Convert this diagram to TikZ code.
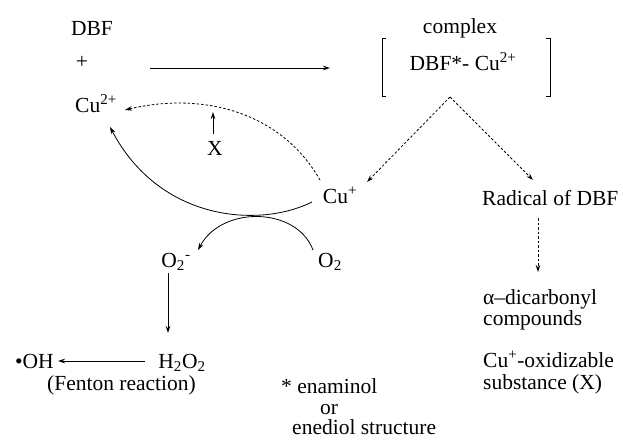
\documentclass[tikz,border=0pt]{standalone}
\usepackage{fontspec}
\setmainfont{Liberation Serif}
\usetikzlibrary{arrows.meta}
\tikzset{
  lbl/.style={inner sep=0pt, font=\fontsize{21.5}{25}\selectfont},
  con/.style={line width=0.8pt, -{Stealth[length=7pt,width=4.5pt]}},
  dcon/.style={con, dash pattern=on 2.5pt off 2pt},
  brk/.style={line width=0.8pt}
}
\begin{document}
\begin{tikzpicture}[x=1pt,y=-1pt]
\useasboundingbox (0,0) rectangle (623,439);
% nodes
\node[lbl,anchor=base] (dbf) at (92,35) {DBF};
\node[lbl] (plus) at (82,62) {+};
\node[lbl,anchor=base west] (cu2) at (75,112) {Cu\textsuperscript{2+}};
\node[lbl,anchor=base] (complex) at (460,33) {complex};
\node[lbl,anchor=base] (cplx) at (463,70) {DBF*- Cu\textsuperscript{2+}};
\node[lbl,anchor=base] (cup) at (340,203) {Cu\textsuperscript{+}};
\node[lbl,anchor=base west] (radical) at (482,205) {Radical of DBF};
\node[lbl,anchor=base west] (alpha) at (483,304) {α–dicarbonyl};
\node[lbl,anchor=base west] (comp) at (483,325) {compounds};
\node[lbl,anchor=base west] (cuox) at (483,367) {Cu\textsuperscript{+}-oxidizable};
\node[lbl,anchor=base west] (subst) at (483,389) {substance (X)};
\node[lbl,anchor=base] (x) at (215,155) {X};
\node[lbl,anchor=base] (o2m) at (176,267) {O\textsubscript{2}\textsuperscript{-}};
\node[lbl,anchor=base] (o2) at (330,267) {O\textsubscript{2}};
\node[lbl,anchor=base] (h2o2) at (182,368) {H\textsubscript{2}O\textsubscript{2}};
\node[lbl,anchor=base west] (oh) at (15,368) {•OH};
\node[lbl,anchor=base] (fenton) at (121.5,390) {(Fenton reaction)};
\node[lbl,anchor=base west] (enam) at (281,393) {* enaminol};
\node[lbl,anchor=base] (or) at (329,414) {or};
\node[lbl,anchor=base west] (ened) at (292,434) {enediol structure};
% coordinates
\coordinate (a1) at (150,68);
\coordinate (a2) at (330,68);
\coordinate (apex) at (450,97);
\coordinate (cupL) at (367,182);
\coordinate (radT) at (533,180);
\coordinate (radB) at (538,218);
\coordinate (alT) at (538,272);
\coordinate (xT) at (213,112);
\coordinate (xB) at (213,134);
\coordinate (o2mB) at (168,273);
\coordinate (h2T) at (168,333);
\coordinate (h2L) at (145,361);
\coordinate (ohR) at (58,361);
\coordinate (cupA) at (320,180);
\coordinate (cu2R) at (125,110);
\coordinate (cupB) at (312,202);
\coordinate (cu2B) at (110,127);
\coordinate (o2T) at (313,250);
\coordinate (o2mR) at (198,250);
% brackets
\draw[brk] (386,38) -- (382,38) -- (382,96) -- (386,96);
\draw[brk] (546,38) -- (550,38) -- (550,96) -- (546,96);
% connectors
\draw[con] (a1) -- (a2);
\draw[dcon] (apex) -- (cupL);
\draw[dcon] (apex) -- (radT);
\draw[dcon] (radB) -- (alT);
\draw[con] (xB) -- (xT);
\draw[dcon] (cupA) .. controls (280,110) and (200,92) .. (cu2R);
\draw[con] (cupB) .. controls (260,228) and (160,222) .. (cu2B);
\draw[con] (o2T) .. controls (297,207) and (222,205) .. (o2mR);
\draw[con] (o2mB) -- (h2T);
\draw[con] (h2L) -- (ohR);
\end{tikzpicture}
\end{document}
